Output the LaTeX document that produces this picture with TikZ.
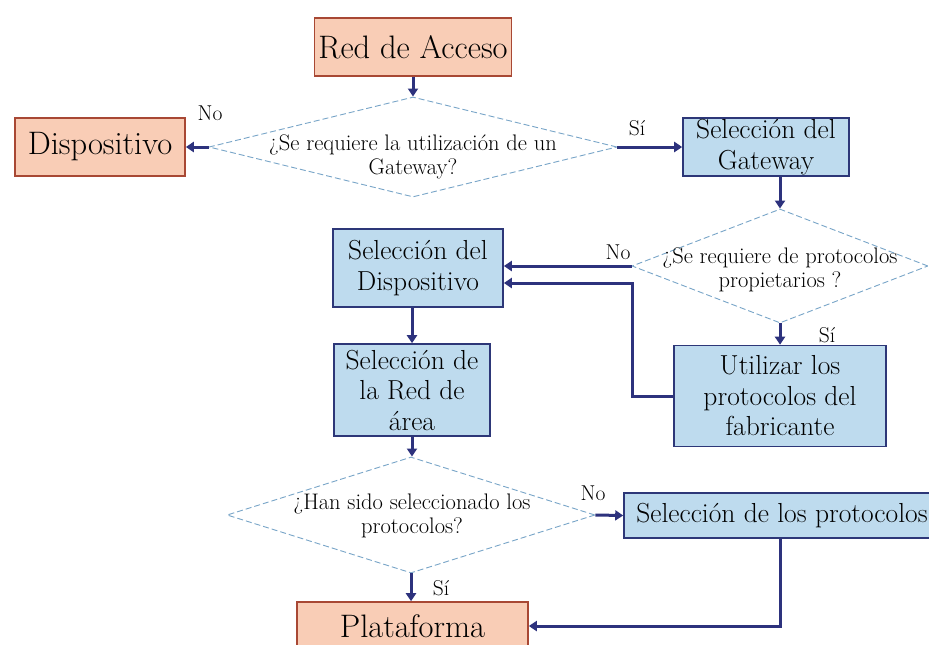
\documentclass[tikz,border=0pt]{standalone}
\usepackage{fontspec}
\usetikzlibrary{arrows.meta,shapes.geometric}
\definecolor{salfill}{RGB}{249,205,182}
\definecolor{salline}{RGB}{168,72,52}
\definecolor{bluefill}{RGB}{190,219,238}
\definecolor{blueline}{RGB}{45,55,120}
\definecolor{dialine}{RGB}{120,165,200}
\definecolor{arrcol}{RGB}{45,50,125}
\begin{document}
\begin{tikzpicture}[x=1pt,y=-1pt,
  salbox/.style={draw=salline, fill=salfill, line width=1.6pt, inner sep=0pt, align=center, font=\fontsize{32.5}{36}\selectfont},
  bluebox/.style={draw=blueline, fill=bluefill, line width=1.6pt, inner sep=0pt, align=center, font=\fontsize{27.5}{30.5}\selectfont},
  dia/.style={diamond, draw=dialine, dash pattern=on 6pt off 3pt, line width=0.9pt, fill=white, inner sep=0pt},
  diatext/.style={align=center, font=\fontsize{22.5}{24.5}\selectfont, inner sep=0pt},
  lab/.style={font=\fontsize{21.5}{23}\selectfont, inner sep=0pt},
  arr/.style={draw=arrcol, line width=3pt, line join=miter, -{Triangle[length=8pt,width=10pt]}}]
\useasboundingbox (0,0) rectangle (929,645);
\fill[white] (0,0) rectangle (929,645);

\node[salbox, minimum width=197pt, minimum height=58pt] (ra) at (413,47) {Red de Acceso};
\node[dia, minimum width=408pt, minimum height=100pt] (d1) at (413,147) {};
\node[diatext] (t1) at (413,157) {¿Se requiere la utilización de un\\Gateway?};
\node[salbox, minimum width=170pt, minimum height=58pt] (disp) at (100,147) {Dispositivo};
\node[bluebox, minimum width=166pt, minimum height=58pt] (gw) at (766,147) {Selección del\\Gateway};
\node[dia, minimum width=296pt, minimum height=114pt] (d2) at (780,266) {};
\node[diatext] (t2) at (780,270) {¿Se requiere de protocolos\\propietarios ?};
\node[bluebox, minimum width=212pt, minimum height=101pt] (ut) at (780,396) {Utilizar los\\protocolos del\\fabricante};
\node[bluebox, minimum width=170pt, minimum height=78pt] (sd) at (418,268) {Selección del\\Dispositivo};
\node[bluebox, minimum width=156pt, minimum height=92pt] (rd) at (412,390) {Selección de\\la Red de\\área};
\node[dia, minimum width=368pt, minimum height=116pt] (d3) at (411,515) {};
\node[diatext] (t3) at (412,516) {¿Han sido seleccionado los\\protocolos?};
\node[bluebox, minimum width=316pt, minimum height=45pt] (sp) at (782,515.5) {Selección de los protocolos};
\node[salbox, minimum width=231pt, minimum height=48pt] (pl) at (412.5,626) {Plataforma};

\coordinate (c1) at (632,283);
\coordinate (c2) at (780,626);

\draw[arr] (ra.south) -- (d1.north);
\draw[arr] (d1.west) -- (disp.east);
\draw[arr] (d1.east) -- (gw.west);
\draw[arr] (gw.south -| d2.north) -- (d2.north);
\draw[arr] (d2.west) -- (d2.west -| sd.east);
\draw[arr] (d2.south) -- (ut.north);
\draw[arr] (ut.west) -| (c1) -- (c1 -| sd.east);
\draw[arr] (rd.north |- sd.south) -- (rd.north);
\draw[arr] (rd.south) -- (rd.south |- d3.north);
\draw[arr] (d3.east) -- (sp.west);
\draw[arr] (d3.south) -- (d3.south |- pl.north);
\draw[arr] (sp.south -| c2) -- (c2) -- (pl.east);

\node[lab] (n1) at (210,113) {No};
\node[lab] (s1) at (637,128) {Sí};
\node[lab] (n2) at (618,252) {No};
\node[lab] (s2) at (827,335) {Sí};
\node[lab] (n3) at (593,493) {No};
\node[lab] (s3) at (441,588) {Sí};
\end{tikzpicture}
\end{document}
